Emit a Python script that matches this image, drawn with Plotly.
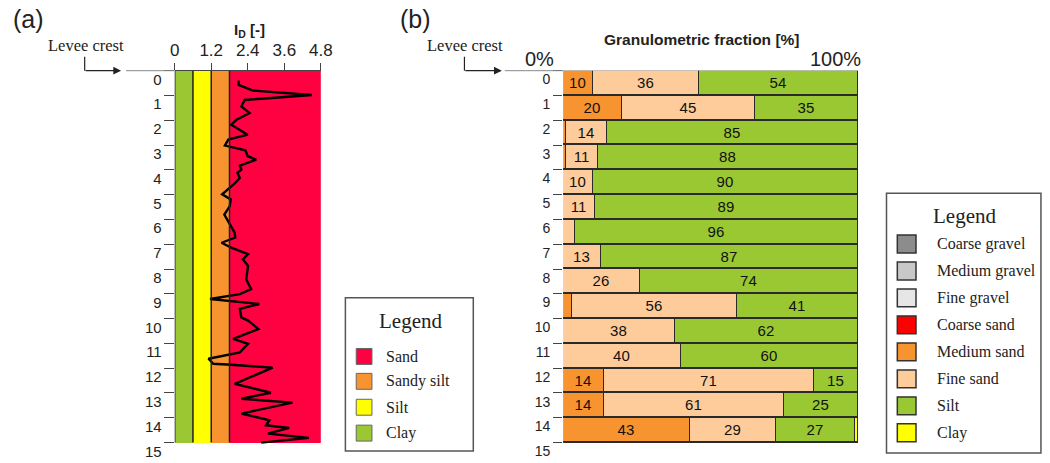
import plotly.graph_objects as go

W, H = 1050, 463

# ---------------- data ----------------
depth_labels = [str(i) for i in range(16)]
id_tick_vals = [0, 1.2, 2.4, 3.6, 4.8]
id_tick_text = ["0", "1.2", "2.4", "3.6", "4.8"]

band_names = ["Clay", "Silt", "Sandy silt", "Sand"]
band_lower = [0.0, 0.6, 1.2, 1.8]
band_upper = [0.6, 1.2, 1.8, 4.8]
band_colors = ["#9BC832", "#FFFF00", "#F7942F", "#FF0040"]

id_depth = [0.40, 0.57, 0.80, 0.98, 1.18, 1.44, 1.71, 1.98, 2.18, 2.58, 2.78, 3.02,
            3.21, 3.45, 3.59, 3.83, 3.99, 4.12, 4.33, 4.55, 4.99, 5.19, 5.46, 5.80,
            6.13, 6.53, 6.73, 6.94, 7.14, 7.40, 7.61, 7.87, 8.41, 8.81, 9.01, 9.21,
            9.41, 9.61, 9.95, 10.08, 10.42, 10.82, 11.02, 11.36, 11.62, 11.82, 11.86,
            11.98, 12.63, 12.99, 13.23, 13.39, 13.83, 14.10, 14.30, 14.41, 14.64,
            14.81, 15.0]
id_value = [2.10, 2.10, 2.57, 4.51, 2.30, 2.19, 2.46, 2.03, 1.86, 2.40, 1.76, 1.65,
            2.32, 2.40, 2.68, 2.14, 2.19, 2.06, 2.14, 1.97, 1.56, 1.84, 1.81, 1.63,
            1.78, 1.97, 1.99, 1.54, 1.86, 2.41, 2.24, 2.41, 2.35, 2.51, 2.14, 1.16,
            2.78, 2.14, 2.19, 2.41, 2.75, 1.92, 2.41, 2.14, 1.11, 1.27, 1.86,
            3.22, 1.97, 3.16, 2.19, 3.87, 2.19, 3.11, 3.00, 3.76, 3.06,
            4.41, 2.84]

gran_rows = list(range(15))
medium_sand = [10, 20, 1, 1, 0, 0, 0, 0, 0, 3, 0, 0, 14, 14, 43]
fine_sand = [36, 45, 14, 11, 10, 11, 4, 13, 26, 56, 38, 40, 71, 61, 29]
silt = [54, 35, 85, 88, 90, 89, 96, 87, 74, 41, 62, 60, 15, 25, 27]
clay = [0, 0, 0, 0, 0, 0, 0, 0, 0, 0, 0, 0, 0, 0, 1]

gran_series = [("Medium sand", medium_sand), ("Fine sand", fine_sand),
               ("Silt", silt), ("Clay", clay)]

gran_legend_names = ["Coarse gravel", "Medium gravel", "Fine gravel", "Coarse sand",
                     "Medium sand", "Fine sand", "Silt", "Clay"]
gran_colors = {"Coarse gravel": "#8C8C8C", "Medium gravel": "#C8C8C8",
               "Fine gravel": "#E6E6E6", "Coarse sand": "#FF0000",
               "Medium sand": "#F7942F", "Fine sand": "#FDCC9A",
               "Silt": "#99C832", "Clay": "#FFFF00"}

# ---------------- layout helpers ----------------
def fx(p):
    return p / W

def fy(p):
    return 1 - p / H

SANS = "Liberation Sans, Arial, sans-serif"
SERIF = "Liberation Serif, Times New Roman, serif"

Y0_PX, Y15_PX = 71.0, 444.5
YMAX = 15.6
unit = (Y15_PX - Y0_PX) / 15
ydom = [fy(Y0_PX + YMAX * unit), fy(Y0_PX)]

fig = go.Figure()

# ---- panel (a): soil-type bands and I_D profile ----
for name, lo, hi, col in zip(band_names, band_lower, band_upper, band_colors):
    fig.add_trace(go.Bar(orientation="h", y=[7.5], x=[hi - lo], base=[lo], width=[15],
                         marker=dict(color=col, line=dict(width=0)),
                         xaxis="x", yaxis="y", showlegend=False, hoverinfo="skip"))

fig.add_trace(go.Scatter(x=id_value, y=id_depth, mode="lines",
                         line=dict(color="black", width=2.4),
                         xaxis="x", yaxis="y", showlegend=False))

# ---- panel (b): granulometric stacked bars ----
for name, vals in gran_series:
    fig.add_trace(go.Bar(orientation="h", y=[r + 0.5 for r in gran_rows], x=vals,
                         width=1, name=name,
                         marker=dict(color=gran_colors[name],
                                     line=dict(color="#2a2a2a", width=1.3)),
                         text=[str(v) if v >= 10 else "" for v in vals],
                         textposition="inside", insidetextanchor="middle",
                         textangle=0, textfont=dict(family=SANS, size=15, color="#111"),
                         xaxis="x2", yaxis="y2", showlegend=False, hoverinfo="skip"))

fig.update_layout(
    width=W, height=H, margin=dict(l=0, r=0, t=0, b=0),
    paper_bgcolor="white", plot_bgcolor="white",
    barmode="stack", bargap=0,
    xaxis=dict(domain=[fx(172.5), fx(321)], range=[0, 4.8], side="top", anchor="y",
               showline=True, linecolor="#444", linewidth=1, showgrid=False,
               zeroline=False, ticks="outside", ticklen=7, tickcolor="#444",
               tickvals=id_tick_vals, ticktext=id_tick_text,
               tickfont=dict(family=SANS, size=17, color="#222")),
    yaxis=dict(domain=ydom, range=[YMAX, 0], anchor="x", showline=False,
               showgrid=False, zeroline=False,
               tickvals=[i + 0.35 for i in range(16)], ticktext=depth_labels,
               ticks="outside", ticklen=9, tickcolor="rgba(0,0,0,0)",
               tickfont=dict(family=SANS, size=15, color="#222"),
               minor=dict(tickmode="array", tickvals=list(range(16)), ticks="outside",
                          ticklen=10, tickcolor="#444", showgrid=False)),
    xaxis2=dict(domain=[fx(567.3), fx(867.3)], range=[0, 100], side="top",
                anchor="y2", showline=False, showgrid=False, zeroline=False,
                showticklabels=False, ticks=""),
    yaxis2=dict(domain=ydom, range=[YMAX, 0], anchor="x2", showline=False,
                showgrid=False, zeroline=False,
                tickvals=[i + 0.35 for i in range(16)], ticktext=depth_labels,
                ticks="outside", ticklen=9, tickcolor="rgba(0,0,0,0)",
                tickfont=dict(family=SANS, size=14, color="#222"),
                minor=dict(tickmode="array", tickvals=list(range(16)), ticks="outside",
                           ticklen=9, tickcolor="#444", showgrid=False)),
)

ann = []
shapes = []

# band boundary lines in panel (a)
for lo in band_lower:
    shapes.append(dict(type="line", xref="x", yref="y", x0=lo, x1=lo, y0=0, y1=15,
                       line=dict(color="#222222", width=1.5), layer="above"))


def txt(text, x, y, size, family=SANS, xanchor="center", xref="paper", xshift=0):
    return dict(text=text, x=x, y=y, xref=xref, yref="paper", xanchor=xanchor,
                yanchor="middle", xshift=xshift, showarrow=False,
                font=dict(family=family, size=size, color="#222"))


# panel labels
ann.append(txt("(a)", fx(24), fy(19), 25))
ann.append(txt("(b)", fx(417), fy(19), 25))

# axis titles
ann.append(txt("<b>I<sub>D</sub> [-]</b>", 2.45, fy(31), 15, xref="x"))
ann.append(txt("<b>Granulometric fraction [%]</b>", 47.2, fy(40), 15.5, xref="x2"))
ann.append(txt("0%", 0, fy(59), 20, xanchor="right", xref="x2", xshift=-7))
ann.append(txt("100%", 100, fy(59), 20, xanchor="right", xref="x2", xshift=5))

# levee crest markers
for cx, vx, ax_end, line_start, line_end in [(82, 81, 118, 123, 172.5),
                                             (468, 467, 505, 508, 567.3)]:
    ann.append(txt("Levee crest", fx(cx), fy(46), 16.5, family=SERIF))
    shapes.append(dict(type="line", xref="paper", yref="paper", x0=fx(vx), x1=fx(vx),
                       y0=fy(57), y1=fy(71), line=dict(color="#222", width=1.2)))
    ann.append(dict(text="", x=fx(ax_end), y=fy(71), ax=-(ax_end - vx), ay=0,
                    xref="paper", yref="paper", axref="pixel", ayref="pixel",
                    showarrow=True, arrowhead=2, arrowsize=1.3, arrowwidth=1.2,
                    arrowcolor="#222"))
    shapes.append(dict(type="line", xref="paper", yref="paper", x0=fx(line_start),
                       x1=fx(line_end), y0=fy(71), y1=fy(71),
                       line=dict(color="#888", width=1)))

# legend (a)
shapes.append(dict(type="rect", xref="paper", yref="paper", x0=fx(346), x1=fx(476),
                   y0=fy(299), y1=fy(453), line=dict(color="#555", width=1.5)))
ann.append(txt("Legend", fx(412), fy(322), 21, family=SERIF))
legend_a_order = ["Sand", "Sandy silt", "Silt", "Clay"]
legend_a_y = [358, 383, 409, 435]
for name, cy in zip(legend_a_order, legend_a_y):
    col = band_colors[band_names.index(name)]
    shapes.append(dict(type="rect", xref="paper", yref="paper", x0=fx(357), x1=fx(373),
                       y0=fy(cy - 8), y1=fy(cy + 8), fillcolor=col,
                       line=dict(color="#666", width=1)))
    ann.append(txt(name, fx(385), fy(cy), 16, family=SERIF, xanchor="left"))

# legend (b) -- box runs past the right edge as in the reference
shapes.append(dict(type="rect", xref="paper", yref="paper", x0=fx(896), x1=fx(1053),
                   y0=fy(194), y1=fy(455), line=dict(color="#555", width=1.5)))
ann.append(txt("Legend", fx(975), fy(217), 21, family=SERIF))
for k, name in enumerate(gran_legend_names):
    cy = 245 + k * 27.1
    shapes.append(dict(type="rect", xref="paper", yref="paper", x0=fx(907), x1=fx(926),
                       y0=fy(cy - 9), y1=fy(cy + 9), fillcolor=gran_colors[name],
                       line=dict(color="#333", width=1.5)))
    ann.append(txt(name, fx(945), fy(cy), 16, family=SERIF, xanchor="left"))

fig.update_layout(annotations=ann, shapes=shapes)
fig.write_html("out.html")
